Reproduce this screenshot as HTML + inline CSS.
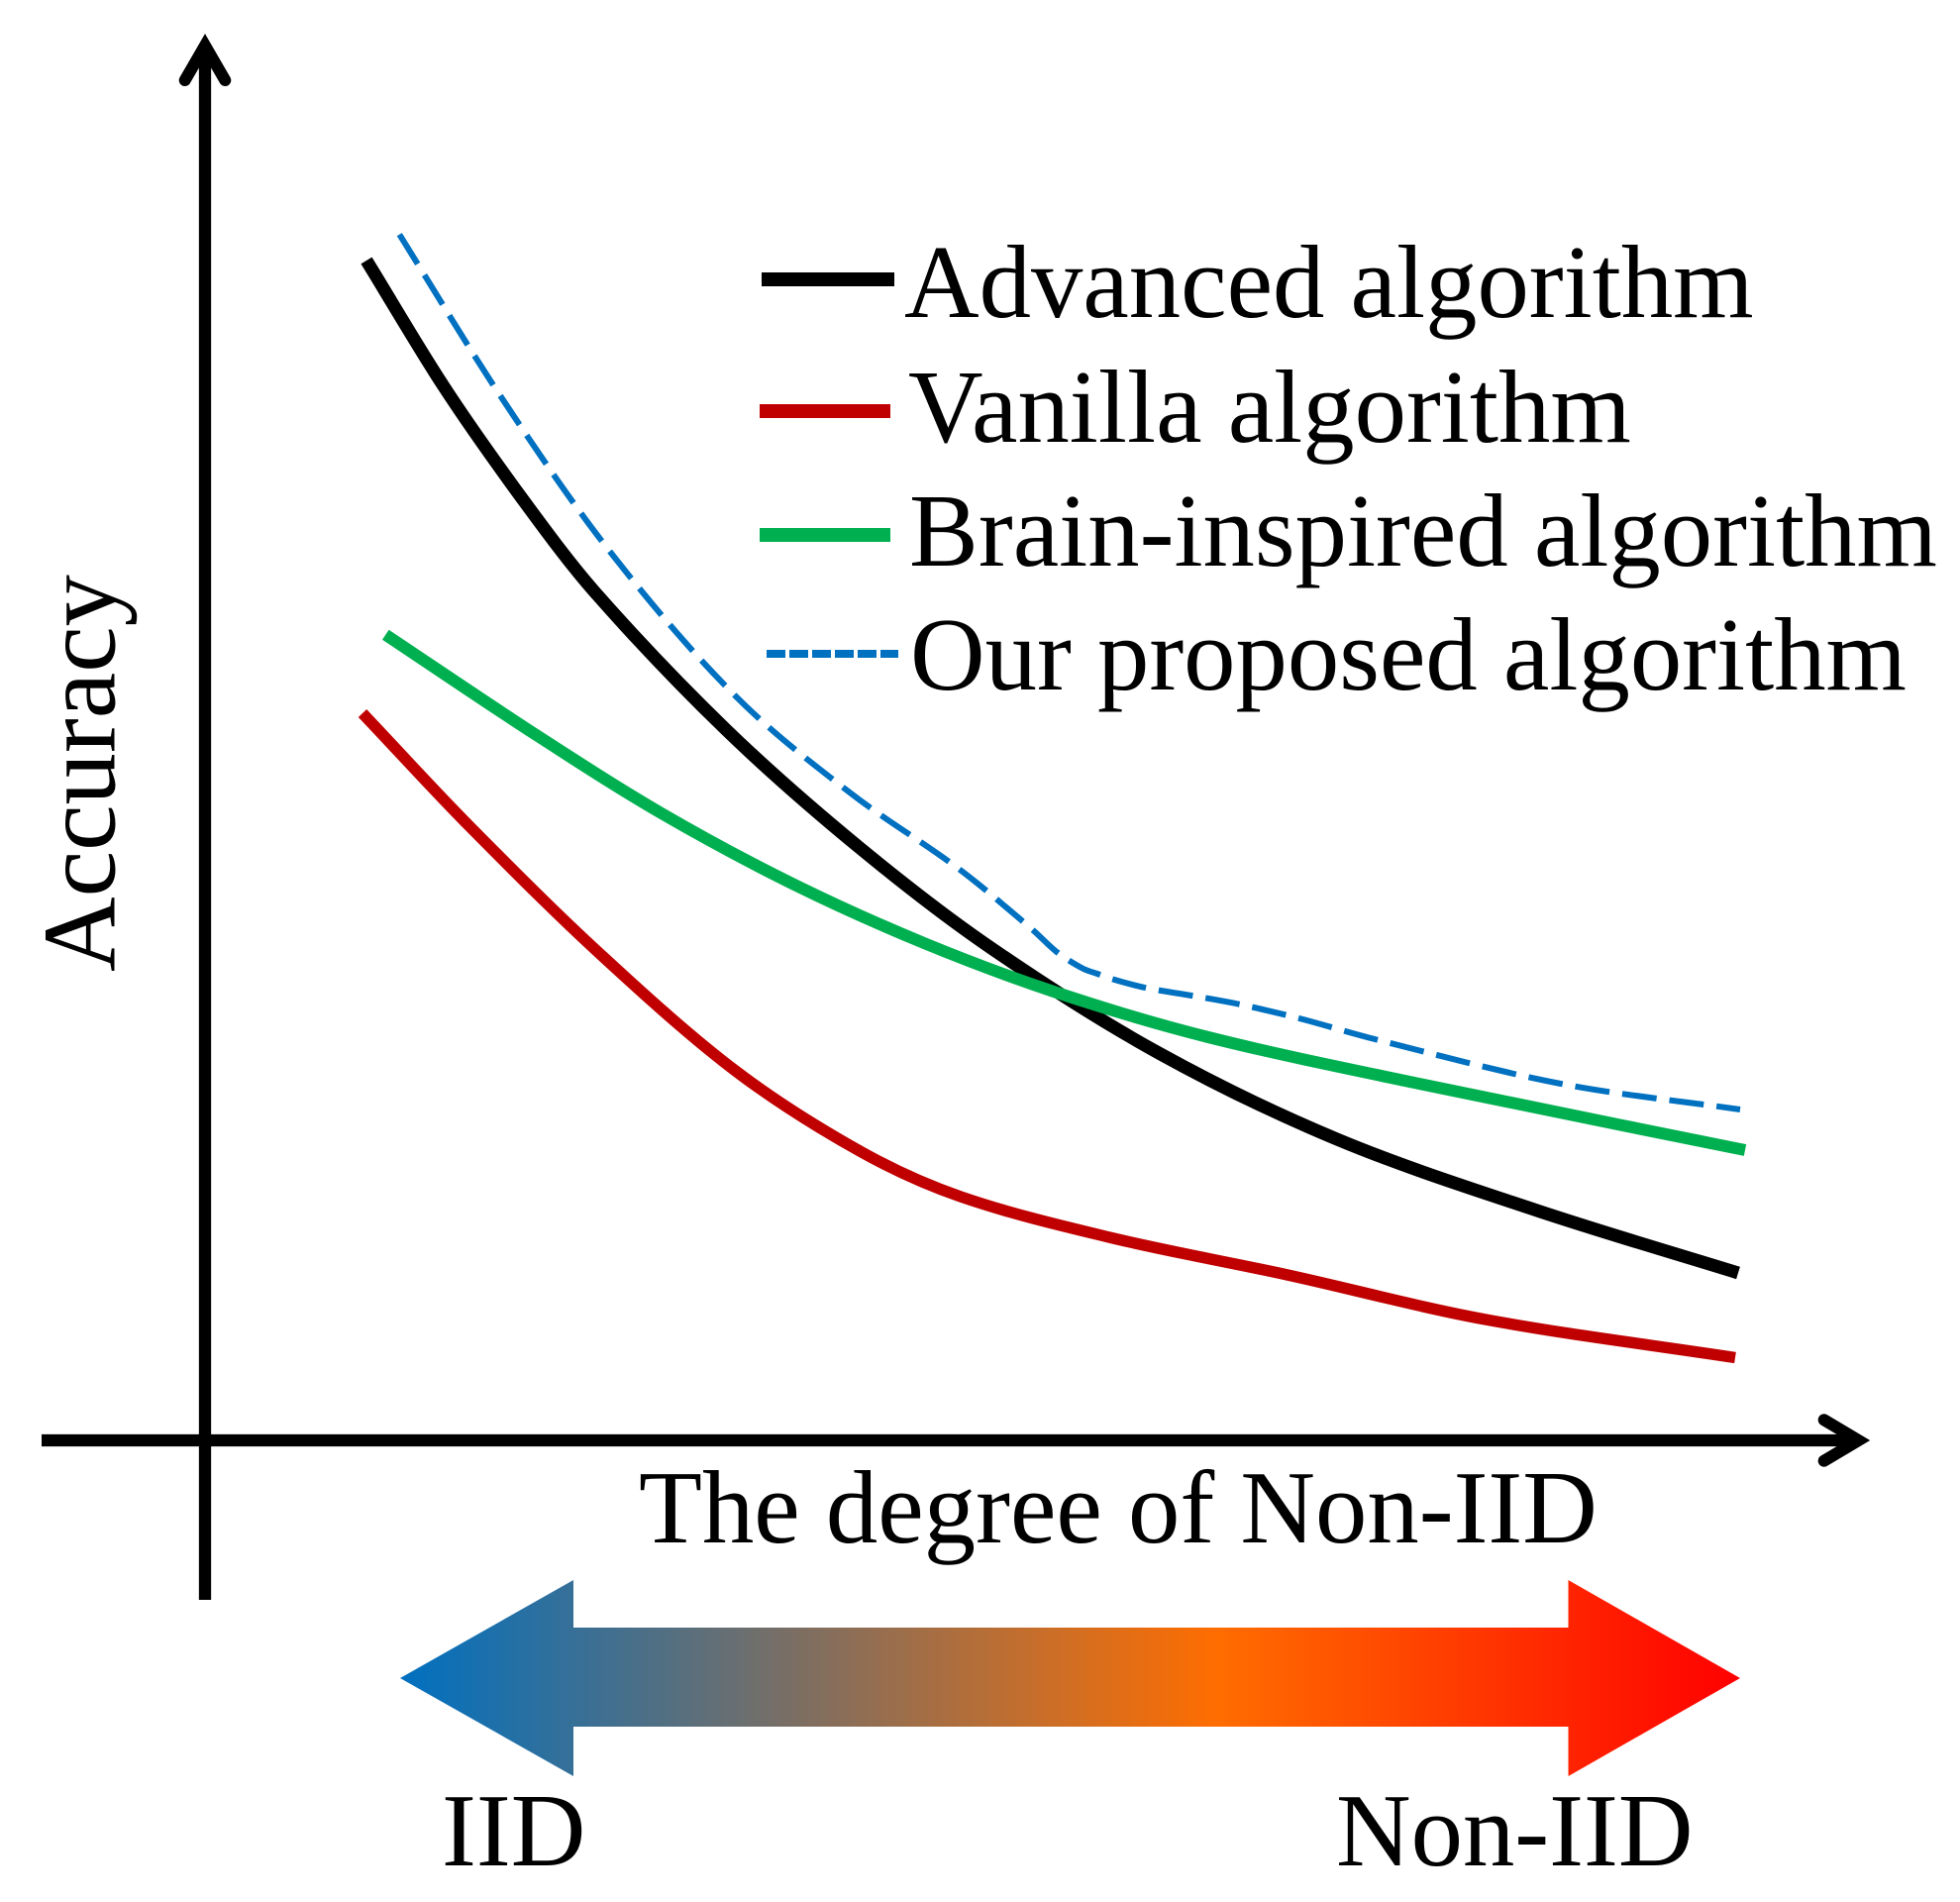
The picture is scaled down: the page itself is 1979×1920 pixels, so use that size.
<!DOCTYPE html>
<html>
<head>
<meta charset="utf-8">
<title>Accuracy vs degree of Non-IID</title>
<style>
html,body{margin:0;padding:0;background:#fff;}
svg{display:block;}
text{font-family:"Liberation Serif",serif;font-size:104.7px;fill:#000;}
</style>
</head>
<body>
<svg id="chart" width="1979" height="1920" viewBox="0 0 1979 1920" xmlns="http://www.w3.org/2000/svg">
  <defs>
    <linearGradient id="grad" gradientUnits="userSpaceOnUse" x1="404" y1="0" x2="1757" y2="0">
      <stop offset="0" stop-color="#0070C0"/>
      <stop offset="0.61" stop-color="#FF6D00"/>
      <stop offset="1" stop-color="#FF0000"/>
    </linearGradient>
  </defs>
  <rect x="0" y="0" width="1979" height="1920" fill="#fff"/>

  <g id="axes" stroke="#000" fill="none">
    <line x1="207" y1="50" x2="207" y2="1615" stroke-width="12.3"/>
    <polyline points="186.7,81 207,46 227.3,81" stroke-width="12" stroke-linecap="round" stroke-linejoin="miter"/>
    <line x1="42" y1="1454" x2="1876" y2="1454" stroke-width="12.3"/>
    <polyline points="1841.7,1433.3 1876.5,1454 1841.7,1474.7" stroke-width="12" stroke-linecap="round" stroke-linejoin="miter"/>
  </g>

  <g id="series"></g>

  <g>
    <line x1="769" y1="282" x2="903" y2="282" stroke="#000" stroke-width="14"/>
    <text x="913" y="320">Advanced algorithm</text>
    <line x1="767" y1="415" x2="899" y2="415" stroke="#C00000" stroke-width="14"/>
    <text x="917" y="446">Vanilla algorithm</text>
    <line x1="767" y1="540" x2="899" y2="540" stroke="#00B050" stroke-width="14"/>
    <text x="918" y="571">Brain-inspired algorithm</text>
    <line x1="774" y1="660" x2="907" y2="660" stroke="#0070C0" stroke-width="8" stroke-dasharray="19 4"/>
    <text x="919" y="696">Our proposed algorithm</text>
  </g>

  <text transform="translate(115.5,981) rotate(-90)" x="0" y="0">Accuracy</text>
  <text x="645" y="1557">The degree of Non-IID</text>

  <polygon fill="url(#grad)" points="404,1694 579,1595 579,1643 1583.5,1643 1583.5,1595 1757,1694 1583.5,1793 1583.5,1743 579,1743 579,1793"/>
  <text x="446" y="1883">IID</text>
  <text x="1349" y="1883">Non-IID</text>
</svg>
<script>
// Values (axis units: degree of Non-IID, accuracy).
const advancedX = [16.4,24.2,32.1,39.4,52.7,66.1,79.4,96.4,114.4,134.4,154.9];
const advancedY = [119.1,106.4,95.1,85.7,71.75,59.9,49.75,39.1,30.4,23.27,16.9];
const vanillaX = [16,26.7,40.1,53.8,66.4,76.4,91.4,109.4,129.4,154.6];
const vanillaY = [73.4,62.1,49,37.2,29.1,24.6,20.5,16.7,12.2,8.35];
const brainX = [18.33,33.4,46.1,59.4,72.7,86.1,101.4,122.7,155.6];
const brainY = [81.33,71.3,63.35,56.2,50.2,45.2,40.7,36,29.3];
const proposedX = [19.73,29.9,40.9,53.5,65.2,76.2,83.6,86.1,88.7,90.2,91.6,95,99.7,104.4,110.4,118.4,137,155.1];
const proposedY = [121.73,105.47,89.83,75.3,65.4,57.7,51.6,49.3,47.65,47.1,46.6,45.7,44.9,44.05,42.65,40.45,36,33.4];

function xScale(v) { return 206 + v * 10; }
function yScale(v) { return 1454 - v * 10; }

function smoothPath(xs, ys) {
  const pts = xs.map(function (x, i) { return [xScale(x), yScale(ys[i])]; });
  const n = pts.length;
  const slopes = pts.map(function (p, i) {
    const a = pts[Math.max(i - 1, 0)];
    const b = pts[Math.min(i + 1, n - 1)];
    return (b[1] - a[1]) / (b[0] - a[0]);
  });
  let d = 'M' + pts[0][0].toFixed(1) + ' ' + pts[0][1].toFixed(1);
  for (let i = 0; i < n - 1; i++) {
    const p1 = pts[i];
    const p2 = pts[i + 1];
    const h = (p2[0] - p1[0]) / 3;
    d += 'C' + (p1[0] + h).toFixed(1) + ' ' + (p1[1] + slopes[i] * h).toFixed(1) + ' ' + (p2[0] - h).toFixed(1) + ' ' + (p2[1] - slopes[i + 1] * h).toFixed(1) + ' ' + p2[0].toFixed(1) + ' ' + p2[1].toFixed(1);
  }
  return d;
}

const group = document.getElementById('series');
const NS = 'http://www.w3.org/2000/svg';

const redPath = document.createElementNS(NS, 'path');


redPath.setAttribute('d', smoothPath(vanillaX, vanillaY));
redPath.setAttribute('fill', 'none');
redPath.setAttribute('stroke', '#C00000');
redPath.setAttribute('stroke-width', '11.5');
group.appendChild(redPath);

const bluePath = document.createElementNS(NS, 'path');


bluePath.setAttribute('d', smoothPath(proposedX, proposedY));
bluePath.setAttribute('fill', 'none');
bluePath.setAttribute('stroke', '#0070C0');
bluePath.setAttribute('stroke-width', '6');
bluePath.setAttribute('stroke-dasharray', '35 13');
group.appendChild(bluePath);

const blackPath = document.createElementNS(NS, 'path');


blackPath.setAttribute('d', smoothPath(advancedX, advancedY));
blackPath.setAttribute('fill', 'none');
blackPath.setAttribute('stroke', '#000');
blackPath.setAttribute('stroke-width', '13');
group.appendChild(blackPath);

const greenPath = document.createElementNS(NS, 'path');


greenPath.setAttribute('d', smoothPath(brainX, brainY));
greenPath.setAttribute('fill', 'none');
greenPath.setAttribute('stroke', '#00B050');
greenPath.setAttribute('stroke-width', '12');
group.appendChild(greenPath);
</script>
</body>
</html>
